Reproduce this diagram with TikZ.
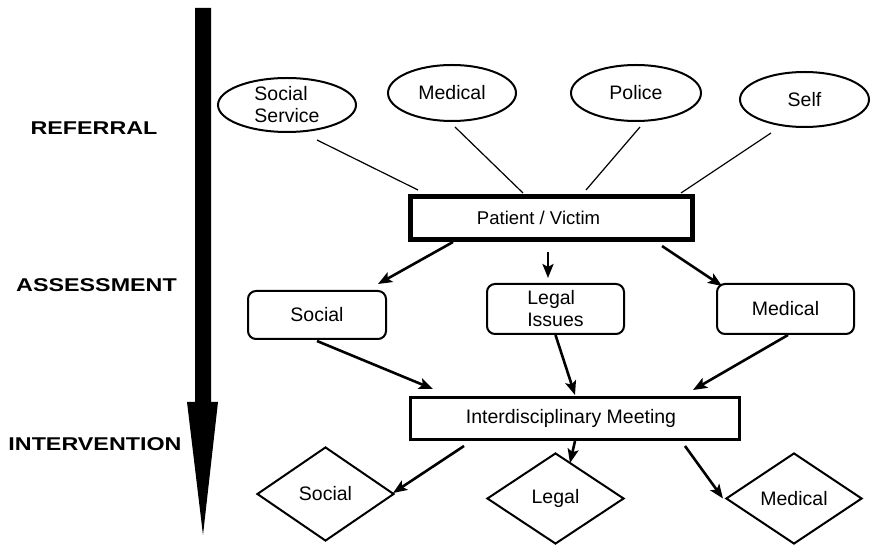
\documentclass[tikz,border=0pt]{standalone}
\usepackage{fontspec}
\setmainfont{Liberation Sans}
\newfontfamily\stagefont[FakeStretch=1.26]{Liberation Sans}
\usetikzlibrary{shapes, arrows.meta, positioning, calc}

\begin{document}
\begin{tikzpicture}[x=1pt, y=-1pt, >={Stealth[length=14pt, width=11pt, inset=3pt]},
  every node/.style={font=\fontsize{19.5}{22}\selectfont, inner sep=0pt},
  stage/.style={font=\stagefont\bfseries\fontsize{18.5}{22}\selectfont},
  source/.style={ellipse, draw, line width=2pt, minimum width=128pt, minimum height=56pt},
  areabox/.style={draw, rounded corners=8pt, line width=2pt, minimum width=137pt, minimum height=50pt},
  plan/.style={diamond, draw, line width=2pt, minimum width=137pt, minimum height=91pt},
  link/.style={line width=1.2pt},
  flow/.style={->, line width=2.6pt}]
  \useasboundingbox (0,0) rectangle (871,545);

  \fill (195,8) -- (211,8) -- (211,402) -- (218,402) -- (203,535) -- (187,402) -- (195,402) -- cycle;
  \node[stage] (ref) at (94,128.5) {REFERRAL};
  \node[stage] (ass) at (96.5,285.5) {ASSESSMENT};
  \node[stage] (int) at (95,444.5) {INTERVENTION};

  \node[source, minimum width=138pt, minimum height=54pt, align=left] (ss) at (287,105) {Social\\Service};
  \node[source] (med) at (452,93) {Medical};
  \node[source, minimum width=130pt] (pol) at (636,93) {Police};
  \node[source, minimum width=129pt, minimum height=55pt] (self) at (804.5,99.5) {Self};

  \node[draw, line width=5pt, minimum width=282pt, minimum height=43pt,
        font=\fontsize{18.5}{22}\selectfont] (pv) at (551.5,218) {Patient / Victim\hspace*{26pt}};

  \node[areabox, minimum width=138pt, minimum height=48pt] (soc) at (317,315) {Social};
  \node[areabox, align=left] (leg) at (555.5,309) {Legal\\Issues};
  \node[areabox] (medb) at (785.5,309) {Medical};

  \node[draw, line width=3pt, minimum width=329pt, minimum height=42pt] (idm) at (575,418.5) {Interdisciplinary Meeting\hspace*{8pt}};

  \node[plan, minimum height=94pt] (dsoc) at (325.5,494) {Social};
  \node[plan] (dleg) at (555.5,498.5) {Legal};
  \node[plan, minimum width=136pt] (dmed) at (794,498.5) {Medical};

  \draw[link] ($(ss.south)+(30,7)$) -- ($(pv.north)+(-133.5,-4)$);
  \draw[link] ($(med.south)+(3,5)$) -- ($(pv.north)+(-28.5,-1)$);
  \draw[link] ($(pol.south)+(4,5)$) -- ($(pv.north)+(34.5,-4)$);
  \draw[link] ($(self.south)+(-33.5,5)$) -- ($(pv.north)+(129.5,-1)$);

  \draw[flow] ($(pv.south)+(-98.5,0)$) -- ($(soc.north)+(61,-6)$);
  \draw[flow] ($(pv.south)+(-3.5,10)$) -- ($(leg.north)+(-7.5,-5)$);
  \draw[flow] ($(pv.south)+(110.5,4)$) -- ($(medb.north west)+(6,3)$);

  \draw[flow] ($(soc.south)+(0,1)$) -- ($(idm.north)+(-142,-7)$);
  \draw[flow] (leg.south) -- ($(idm.north)+(0,-1)$);
  \draw[flow] ($(medb.south)+(2.5,0)$) -- ($(idm.north)+(118,-6)$);

  \draw[flow] ($(idm.south)+(-111,5)$) -- ($(dsoc.east)+(-2,-1)$);
  \draw[flow] (idm.south) -- ($(dleg.north)+(14.5,11)$);
  \draw[flow] ($(idm.south)+(110,5)$) -- ($(dmed.west)+(-2,0)$);
\end{tikzpicture}
\end{document}
